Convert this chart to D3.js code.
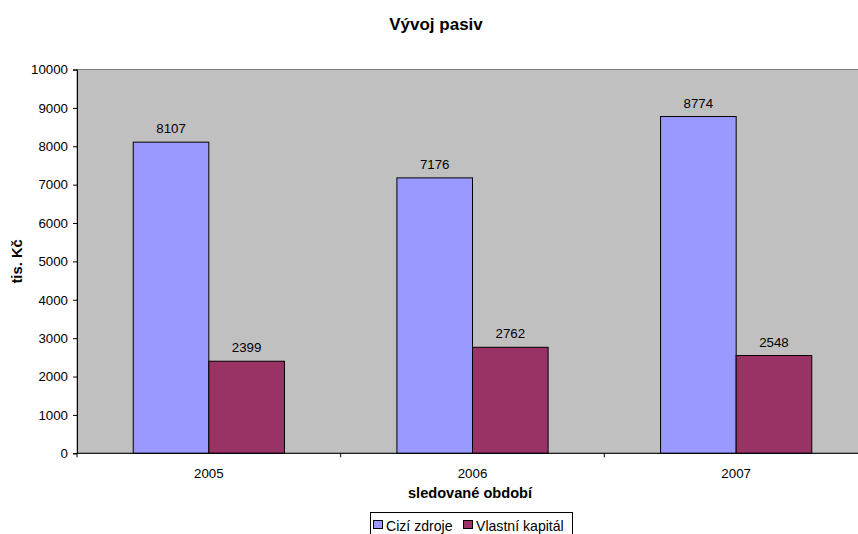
<!DOCTYPE html>
<html>
<head>
<meta charset="utf-8">
<script src="https://cdn.jsdelivr.net/npm/d3@7"></script>
<style>
  html, body { margin: 0; padding: 0; background: #fff; }
  svg { display: block; font-family: "Liberation Sans", Arial, sans-serif; }
</style>
</head>
<body>
<svg id="chart" width="858" height="534"></svg>
<script>
// Balance-sheet liabilities by year (thousand CZK)
const years = ["2005", "2006", "2007"];
const seriesNames = ["Cizí zdroje", "Vlastní kapitál"];
const ciziZdroje = [8107, 7176, 8774];
const vlastniKapital = [2399, 2762, 2548];
const yTicks = [0, 1000, 2000, 3000, 4000, 5000, 6000, 7000, 8000, 9000, 10000];
const seriesColors = ["#9999FF", "#993366"];

const seriesValues = [ciziZdroje, vlastniKapital];

const svg = d3.select("#chart");
const W = 858, H = 534;

// Plot frame (right edge runs past the visible canvas)
const plot = { left: 77, right: 868, top: 69.5, bottom: 453.3 };

svg.append("defs").append("clipPath").attr("id", "view")
  .append("rect").attr("x", 0).attr("y", 0).attr("width", W).attr("height", H);

const root = svg.append("g").attr("clip-path", "url(#view)");

const y = d3.scaleLinear().domain([0, 10000]).range([plot.bottom, plot.top]);
const x = d3.scaleBand().domain(years).range([plot.left, plot.right]).padding(0);
const barW = 75.6;
const xs = d3.scaleBand().domain(seriesNames)
  .range([-barW, barW]).padding(0);

// Grey plot background with grey frame
root.append("rect")
  .attr("x", plot.left).attr("y", plot.top)
  .attr("width", plot.right - plot.left).attr("height", plot.bottom - plot.top)
  .attr("fill", "#C0C0C0").attr("stroke", "#808080").attr("stroke-width", 1);

// Bars
const groups = root.selectAll("g.year").data(years).enter().append("g")
  .attr("class", "year")
  .attr("transform", d => `translate(${x(d) + x.bandwidth() / 2},0)`);

seriesNames.forEach((name, si) => {
  groups.append("rect")
    .attr("x", xs(name))
    .attr("y", (d, i) => y(seriesValues[si][i]))
    .attr("width", xs.bandwidth())
    .attr("height", (d, i) => y(0) - y(seriesValues[si][i]))
    .attr("fill", seriesColors[si])
    .attr("stroke", "#000").attr("stroke-width", 1);

  groups.append("text")
    .attr("x", xs(name) + xs.bandwidth() / 2)
    .attr("y", (d, i) => y(seriesValues[si][i]) - 9)
    .attr("text-anchor", "middle")
    .attr("font-size", "13.3px")
    .attr("fill", "#000")
    .text((d, i) => seriesValues[si][i]);
});

// Y axis
const yAxis = d3.axisLeft(y).tickValues(yTicks).tickSize(4).tickPadding(5)
  .tickFormat(d3.format("d"));
const yg = root.append("g").attr("transform", `translate(${plot.left},0)`).call(yAxis);
yg.select(".domain").attr("stroke", "#000");
yg.selectAll(".tick line").attr("stroke", "#000");
yg.selectAll(".tick text").attr("font-size", "13.3px").attr("fill", "#000")
  .attr("font-family", "Liberation Sans, Arial, sans-serif");

// X axis: ticks sit on category boundaries
const xAxisLine = root.append("g");
xAxisLine.append("line")
  .attr("x1", plot.left).attr("x2", plot.right)
  .attr("y1", plot.bottom).attr("y2", plot.bottom)
  .attr("stroke", "#000");
const boundaries = years.map(d => x(d)).concat([x(years[years.length - 1]) + x.bandwidth()]);
xAxisLine.selectAll("line.tick").data(boundaries).enter().append("line")
  .attr("class", "tick")
  .attr("x1", d => d).attr("x2", d => d)
  .attr("y1", plot.bottom).attr("y2", plot.bottom + 4)
  .attr("stroke", "#000");
xAxisLine.selectAll("text").data(years).enter().append("text")
  .attr("x", d => x(d) + x.bandwidth() / 2)
  .attr("y", 477.5)
  .attr("text-anchor", "middle")
  .attr("font-size", "13.3px")
  .attr("fill", "#000")
  .text(d => d);

// Titles
root.append("text")
  .attr("x", 436).attr("y", 29.5)
  .attr("text-anchor", "middle")
  .attr("font-size", "17px").attr("font-weight", "bold")
  .text("Vývoj pasiv");

root.append("text")
  .attr("x", 470).attr("y", 498)
  .attr("text-anchor", "middle")
  .attr("font-size", "14.6px").attr("font-weight", "bold")
  .text("sledované období");

root.append("text")
  .attr("transform", `translate(21.5,${(plot.top + plot.bottom) / 2}) rotate(-90)`)
  .attr("text-anchor", "middle")
  .attr("font-size", "14.8px").attr("font-weight", "bold")
  .text("tis. Kč");

// Legend
const legend = root.append("g");
legend.append("rect")
  .attr("x", 370.5).attr("y", 512.5)
  .attr("width", 202).attr("height", 30)
  .attr("fill", "#fff").attr("stroke", "#000");
const legendX = [373.5, 463.5];
seriesNames.forEach((name, si) => {
  legend.append("rect")
    .attr("x", legendX[si]).attr("y", 520.5)
    .attr("width", 9).attr("height", 8)
    .attr("fill", seriesColors[si]).attr("stroke", "#000");
  legend.append("text")
    .attr("x", legendX[si] + 12.5).attr("y", 531)
    .attr("font-size", "14.1px").attr("fill", "#000")
    .text(name);
});
</script>
</body>
</html>
